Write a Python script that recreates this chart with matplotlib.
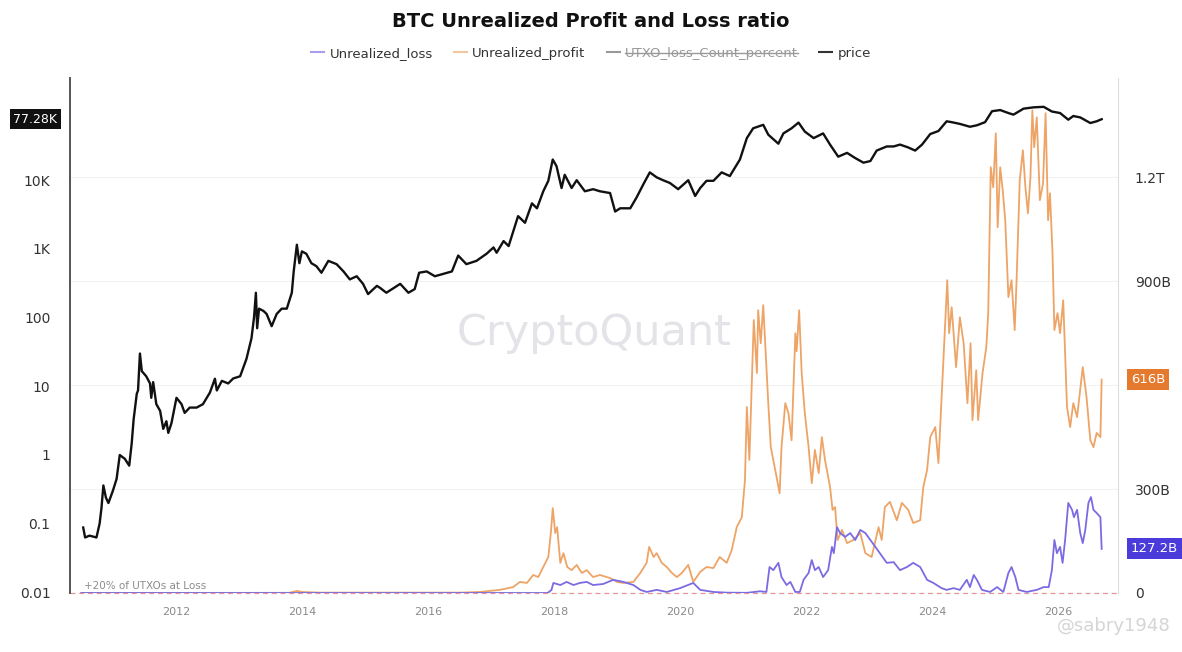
import matplotlib
matplotlib.use("Agg")
import matplotlib.pyplot as plt
from matplotlib.lines import Line2D
from matplotlib.transforms import blended_transform_factory

# --- data (decimal years) ---
price_year = [2010.53, 2010.56, 2010.63, 2010.74, 2010.79, 2010.82, 2010.85, 2010.89, 2010.93, 2011.00,
              2011.06, 2011.11, 2011.19, 2011.26, 2011.30, 2011.33, 2011.38, 2011.40, 2011.43, 2011.46,
              2011.53, 2011.59, 2011.61, 2011.64, 2011.69, 2011.75, 2011.80, 2011.85, 2011.88, 2011.93,
              2012.01, 2012.09, 2012.14, 2012.22, 2012.33, 2012.43, 2012.54, 2012.62, 2012.65, 2012.73,
              2012.83, 2012.91, 2013.02, 2013.12, 2013.20, 2013.24, 2013.27, 2013.29, 2013.32, 2013.39,
              2013.44, 2013.52, 2013.60, 2013.68, 2013.76, 2013.84, 2013.87, 2013.92, 2013.96, 2014.00,
              2014.07, 2014.15, 2014.23, 2014.31, 2014.42, 2014.55, 2014.66, 2014.76, 2014.87, 2014.97,
              2015.05, 2015.19, 2015.24, 2015.34, 2015.56, 2015.69, 2015.79, 2015.86, 2015.98, 2016.11,
              2016.38, 2016.48, 2016.61, 2016.77, 2016.93, 2017.04, 2017.09, 2017.20, 2017.28, 2017.43,
              2017.54, 2017.65, 2017.73, 2017.83, 2017.91, 2017.98, 2018.04, 2018.12, 2018.17, 2018.28,
              2018.36, 2018.49, 2018.62, 2018.73, 2018.89, 2018.97, 2019.05, 2019.21, 2019.31, 2019.42,
              2019.52, 2019.63, 2019.73, 2019.84, 2019.97, 2020.13, 2020.24, 2020.32, 2020.42, 2020.53,
              2020.66, 2020.79, 2020.95, 2021.06, 2021.16, 2021.32, 2021.40, 2021.56, 2021.64, 2021.77,
              2021.88, 2021.98, 2022.12, 2022.27, 2022.38, 2022.51, 2022.65, 2022.78, 2022.91, 2023.02,
              2023.12, 2023.28, 2023.39, 2023.49, 2023.62, 2023.73, 2023.84, 2023.97, 2024.10, 2024.23,
              2024.31, 2024.44, 2024.60, 2024.71, 2024.84, 2024.95, 2025.08, 2025.21, 2025.29, 2025.45,
              2025.61, 2025.77, 2025.90, 2026.03, 2026.16, 2026.24, 2026.35, 2026.51, 2026.61, 2026.69]
price = [0.088, 0.063, 0.067, 0.063, 0.10, 0.17, 0.36, 0.24, 0.20, 0.30,
         0.45, 1.0, 0.88, 0.70, 1.5, 3.3, 7.8, 8.7, 30, 16.6,
         14, 11, 6.8, 11.5, 5.5, 4.4, 2.4, 3.1, 2.1, 2.9,
         6.8, 5.5, 4.1, 4.9, 4.9, 5.5, 8.1, 12.9, 8.7, 12,
         11, 13, 14, 25, 50, 100, 230, 70, 135, 125,
         113, 75, 113, 135, 135, 230, 470, 1150, 620, 920,
         850, 620, 560, 450, 670, 600, 470, 360, 400, 310,
         220, 290, 271, 230, 310, 230, 260, 450, 470, 400,
         470, 800, 600, 670, 850, 1050, 880, 1300, 1100, 3000,
         2400, 4600, 3900, 6900, 9800, 20000, 16000, 7700, 12000, 7700,
         10000, 6900, 7400, 6900, 6500, 3500, 3900, 3900, 5600, 8800,
         13000, 11000, 10000, 9100, 7400, 10000, 5900, 7700, 9800, 9800,
         13000, 11500, 20000, 41000, 57000, 64000, 46000, 34000, 48000, 57000,
         69000, 51000, 41000, 48000, 33000, 22000, 25000, 21000, 18000, 19000,
         27000, 31000, 31000, 33000, 30000, 27000, 33000, 47000, 52000, 72000,
         70000, 66000, 60000, 63000, 70000, 101000, 105000, 95000, 90000, 110000,
         115000, 117000, 100000, 95000, 76000, 86000, 82000, 68000, 72000, 77280]

profit_year = [2010.50, 2013.80, 2013.92, 2014.00, 2014.30, 2016.50, 2016.83, 2017.14, 2017.35, 2017.46,
               2017.57, 2017.67, 2017.75, 2017.83, 2017.91, 2017.95, 2017.98, 2018.02, 2018.05, 2018.10,
               2018.15, 2018.21, 2018.28, 2018.36, 2018.44, 2018.52, 2018.62, 2018.73, 2018.89, 2019.00,
               2019.10, 2019.26, 2019.37, 2019.47, 2019.51, 2019.58, 2019.63, 2019.71, 2019.79, 2019.87,
               2019.95, 2020.03, 2020.13, 2020.21, 2020.32, 2020.42, 2020.53, 2020.63, 2020.74, 2020.82,
               2020.90, 2020.98, 2021.03, 2021.06, 2021.10, 2021.14, 2021.17, 2021.22, 2021.24, 2021.28,
               2021.32, 2021.37, 2021.40, 2021.44, 2021.48, 2021.52, 2021.58, 2021.61, 2021.67, 2021.72,
               2021.77, 2021.83, 2021.85, 2021.89, 2021.93, 2021.98, 2022.04, 2022.09, 2022.14, 2022.20,
               2022.25, 2022.30, 2022.38, 2022.42, 2022.46, 2022.50, 2022.57, 2022.65, 2022.75, 2022.86,
               2022.94, 2023.04, 2023.15, 2023.20, 2023.25, 2023.33, 2023.44, 2023.52, 2023.62, 2023.70,
               2023.81, 2023.86, 2023.92, 2023.97, 2024.05, 2024.10, 2024.15, 2024.24, 2024.27, 2024.31,
               2024.38, 2024.44, 2024.50, 2024.56, 2024.61, 2024.64, 2024.70, 2024.73, 2024.80, 2024.86,
               2024.89, 2024.93, 2024.97, 2025.01, 2025.04, 2025.08, 2025.12, 2025.16, 2025.21, 2025.26,
               2025.31, 2025.34, 2025.39, 2025.44, 2025.48, 2025.52, 2025.56, 2025.59, 2025.62, 2025.66,
               2025.71, 2025.76, 2025.80, 2025.84, 2025.87, 2025.91, 2025.94, 2025.99, 2026.03, 2026.08,
               2026.14, 2026.19, 2026.24, 2026.30, 2026.39, 2026.45, 2026.51, 2026.56, 2026.61, 2026.67,
               2026.69]
unrealized_profit_b = [0, 0.5, 6, 3, 1, 1, 3, 9, 17, 32,
                       29, 52, 46, 75, 104, 173, 245, 173, 190, 87,
                       115, 75, 66, 81, 58, 66, 46, 52, 43, 32,
                       29, 32, 58, 87, 133, 104, 115, 87, 75, 58,
                       46, 58, 81, 32, 61, 75, 72, 104, 87, 124,
                       190, 219, 326, 537, 384, 614, 788, 635, 816, 721,
                       831, 652, 548, 421, 384, 346, 288, 421, 548, 519,
                       441, 750, 698, 816, 635, 519, 421, 317, 413, 346,
                       450, 384, 306, 240, 248, 153, 182, 144, 153, 173,
                       115, 104, 190, 153, 248, 263, 210, 260, 240, 202,
                       210, 306, 355, 450, 479, 375, 565, 903, 750, 825,
                       652, 796, 721, 548, 721, 499, 643, 499, 635, 710,
                       808, 1229, 1171, 1327, 1056, 1229, 1163, 1076, 854, 903,
                       759, 903, 1191, 1278, 1171, 1096, 1200, 1393, 1287, 1373,
                       1134, 1183, 1385, 1076, 1154, 981, 759, 808, 750, 845,
                       537, 479, 548, 508, 652, 565, 441, 421, 462, 450,
                       616]

loss_year = [2010.50, 2017.90, 2017.96, 2017.99, 2018.10, 2018.20, 2018.31, 2018.41, 2018.52, 2018.62,
             2018.78, 2018.94, 2019.10, 2019.26, 2019.37, 2019.47, 2019.63, 2019.79, 2020.00, 2020.21,
             2020.32, 2020.53, 2020.74, 2021.06, 2021.27, 2021.37, 2021.42, 2021.48, 2021.56, 2021.61,
             2021.69, 2021.75, 2021.83, 2021.90, 2021.96, 2022.04, 2022.09, 2022.14, 2022.20, 2022.27,
             2022.35, 2022.41, 2022.44, 2022.49, 2022.54, 2022.62, 2022.70, 2022.78, 2022.86, 2022.94,
             2023.02, 2023.10, 2023.17, 2023.28, 2023.39, 2023.49, 2023.60, 2023.70, 2023.81, 2023.92,
             2024.02, 2024.15, 2024.23, 2024.34, 2024.44, 2024.55, 2024.60, 2024.66, 2024.71, 2024.79,
             2024.92, 2025.03, 2025.13, 2025.21, 2025.26, 2025.32, 2025.37, 2025.50, 2025.66, 2025.77,
             2025.85, 2025.90, 2025.94, 2025.98, 2026.03, 2026.07, 2026.11, 2026.16, 2026.22, 2026.25,
             2026.30, 2026.35, 2026.39, 2026.43, 2026.48, 2026.52, 2026.56, 2026.61, 2026.67, 2026.69]
unrealized_loss_b = [0, 0, 9, 29, 23, 32, 23, 29, 32, 23,
                     26, 38, 32, 23, 9, 3, 9, 3, 14, 29,
                     9, 3, 1, 0.5, 5, 3, 75, 66, 87, 46,
                     23, 32, 3, 3, 38, 58, 95, 66, 75, 46,
                     66, 133, 115, 190, 173, 162, 173, 153, 182, 173,
                     153, 133, 115, 87, 89, 66, 75, 87, 75, 38,
                     29, 14, 9, 14, 9, 38, 17, 52, 38, 9,
                     3, 17, 3, 58, 75, 46, 9, 3, 9, 17,
                     17, 66, 153, 115, 133, 87, 153, 260, 240, 219,
                     240, 173, 144, 182, 260, 277, 240, 231, 219, 127.2]

year_ticks = [2012, 2014, 2016, 2018, 2020, 2022, 2024, 2026]
price_ticks = [0.01, 0.1, 1, 10, 100, 1000, 10000]
price_tick_labels = ["0.01", "0.1", "1", "10", "100", "1K", "10K"]
pnl_ticks_b = [0, 300, 600, 900, 1200]
pnl_tick_labels = ["0", "300B", "", "900B", "1.2T"]

last_price_label = "77.28K"
last_profit_label = "616B"
last_loss_label = "127.2B"

# --- styles ---
c_profit = "#EDA466"
c_loss = "#7B6BE3"
c_price = "#111111"

plt.rcParams["font.family"] = ["DejaVu Sans"]

fig = plt.figure(figsize=(11.82, 6.52), dpi=100)
ax = fig.add_axes([0.0592, 0.0905, 0.8867, 0.7895])
ax2 = ax.twinx()

ax.set_yscale("log")
ax.set_xlim(2010.32, 2026.95)
ax.set_ylim(0.0098, 3.05e5)
ax2.set_ylim(0, 1486e9)

# watermark
ax.text(0.5, 0.505, "CryptoQuant", transform=ax.transAxes, fontsize=31,
        color="#E3E3E8", ha="center", va="center", zorder=0)

# right-axis gridlines
for t in pnl_ticks_b:
    ax2.axhline(t * 1e9, color="#F2F2F2", lw=0.8, zorder=0)

ax2.plot(profit_year, [v * 1e9 for v in unrealized_profit_b], color=c_profit, lw=1.3, zorder=2)
ax2.plot(loss_year, [v * 1e9 for v in unrealized_loss_b], color=c_loss, lw=1.3, zorder=3)
ax2.axhline(0, color="#E59595", lw=0.9, ls=(0, (4, 3)), clip_on=False, zorder=1)
ax2.text(2010.55, 6e9, "+20% of UTXOs at Loss", fontsize=7.5, color="#8C8C8C",
         ha="left", va="bottom")

ax.set_zorder(ax2.get_zorder() + 1)
ax.patch.set_visible(False)
ax.plot(price_year, price, color=c_price, lw=1.7, zorder=4)

# axes styling
for a in (ax, ax2):
    a.spines["top"].set_visible(False)
    a.spines["bottom"].set_visible(False)
ax.spines["right"].set_visible(False)
ax2.spines["left"].set_visible(False)
ax.spines["left"].set_color("#555555")
ax.spines["left"].set_linewidth(1.4)
ax2.spines["right"].set_color("#DDDDDD")

ax.set_yticks(price_ticks)
ax.set_yticklabels(price_tick_labels)
ax.yaxis.set_minor_locator(matplotlib.ticker.NullLocator())
ax.tick_params(axis="y", length=0, pad=14, labelsize=10, labelcolor="#333333")
ax2.set_yticks([t * 1e9 for t in pnl_ticks_b])
ax2.set_yticklabels(pnl_tick_labels)
ax2.tick_params(axis="y", length=0, pad=12, labelsize=10, labelcolor="#333333")

ax.set_xticks(year_ticks)
ax.set_xticklabels([str(y) for y in year_ticks])
ax.tick_params(axis="x", length=0, pad=10, labelsize=8, labelcolor="#8A8A8A")

# last value badges
tl = blended_transform_factory(ax.transAxes, ax.transData)
ax.text(-0.012, price[-1], last_price_label, transform=tl, ha="right", va="center",
        fontsize=9, color="white", zorder=10, clip_on=False,
        bbox=dict(boxstyle="square,pad=0.3", fc="#111111", ec="none"))
tr = blended_transform_factory(ax2.transAxes, ax2.transData)
ax2.text(1.012, unrealized_profit_b[-1] * 1e9, last_profit_label, transform=tr, ha="left",
         va="center", fontsize=9.5, color="white", clip_on=False,
         bbox=dict(boxstyle="square,pad=0.3", fc="#E5792E", ec="none"))
ax2.text(1.012, unrealized_loss_b[-1] * 1e9, last_loss_label, transform=tr, ha="left",
         va="center", fontsize=9.5, color="white", clip_on=False,
         bbox=dict(boxstyle="square,pad=0.3", fc="#4B3BDA", ec="none"))

# title and legend
fig.text(0.5, 0.967, "BTC Unrealized Profit and Loss ratio", ha="center", va="center",
         fontsize=14, fontweight="bold", color="#111111")
handles = [Line2D([], [], color="#A99EEA", lw=1.5),
           Line2D([], [], color="#F2C79E", lw=1.5),
           Line2D([], [], color="#999999", lw=1.5),
           Line2D([], [], color="#333333", lw=1.5)]
names = ["Unrealized_loss", "Unrealized_profit", "UTXO_loss_Count_percent", "price"]
leg = fig.legend(handles, names, loc="center", bbox_to_anchor=(0.5, 0.918), ncol=4,
                 frameon=False, fontsize=9.5, handlelength=1.0, handletextpad=0.4,
                 columnspacing=1.6)
for i, t in enumerate(leg.get_texts()):
    t.set_color("#999999" if i == 2 else "#333333")

# strike through the hidden series name
fig.canvas.draw()
r = fig.canvas.get_renderer()
bb = leg.get_texts()[2].get_window_extent(r).transformed(fig.transFigure.inverted())
fig.add_artist(Line2D([bb.x0, bb.x1], [(bb.y0 + bb.y1) / 2] * 2, color="#999999",
                      lw=1, transform=fig.transFigure))

fig.text(0.99, 0.04, "@sabry1948", fontsize=13, color="#D5D5D5", ha="right", va="center")

fig.savefig("out.png", dpi=100)
